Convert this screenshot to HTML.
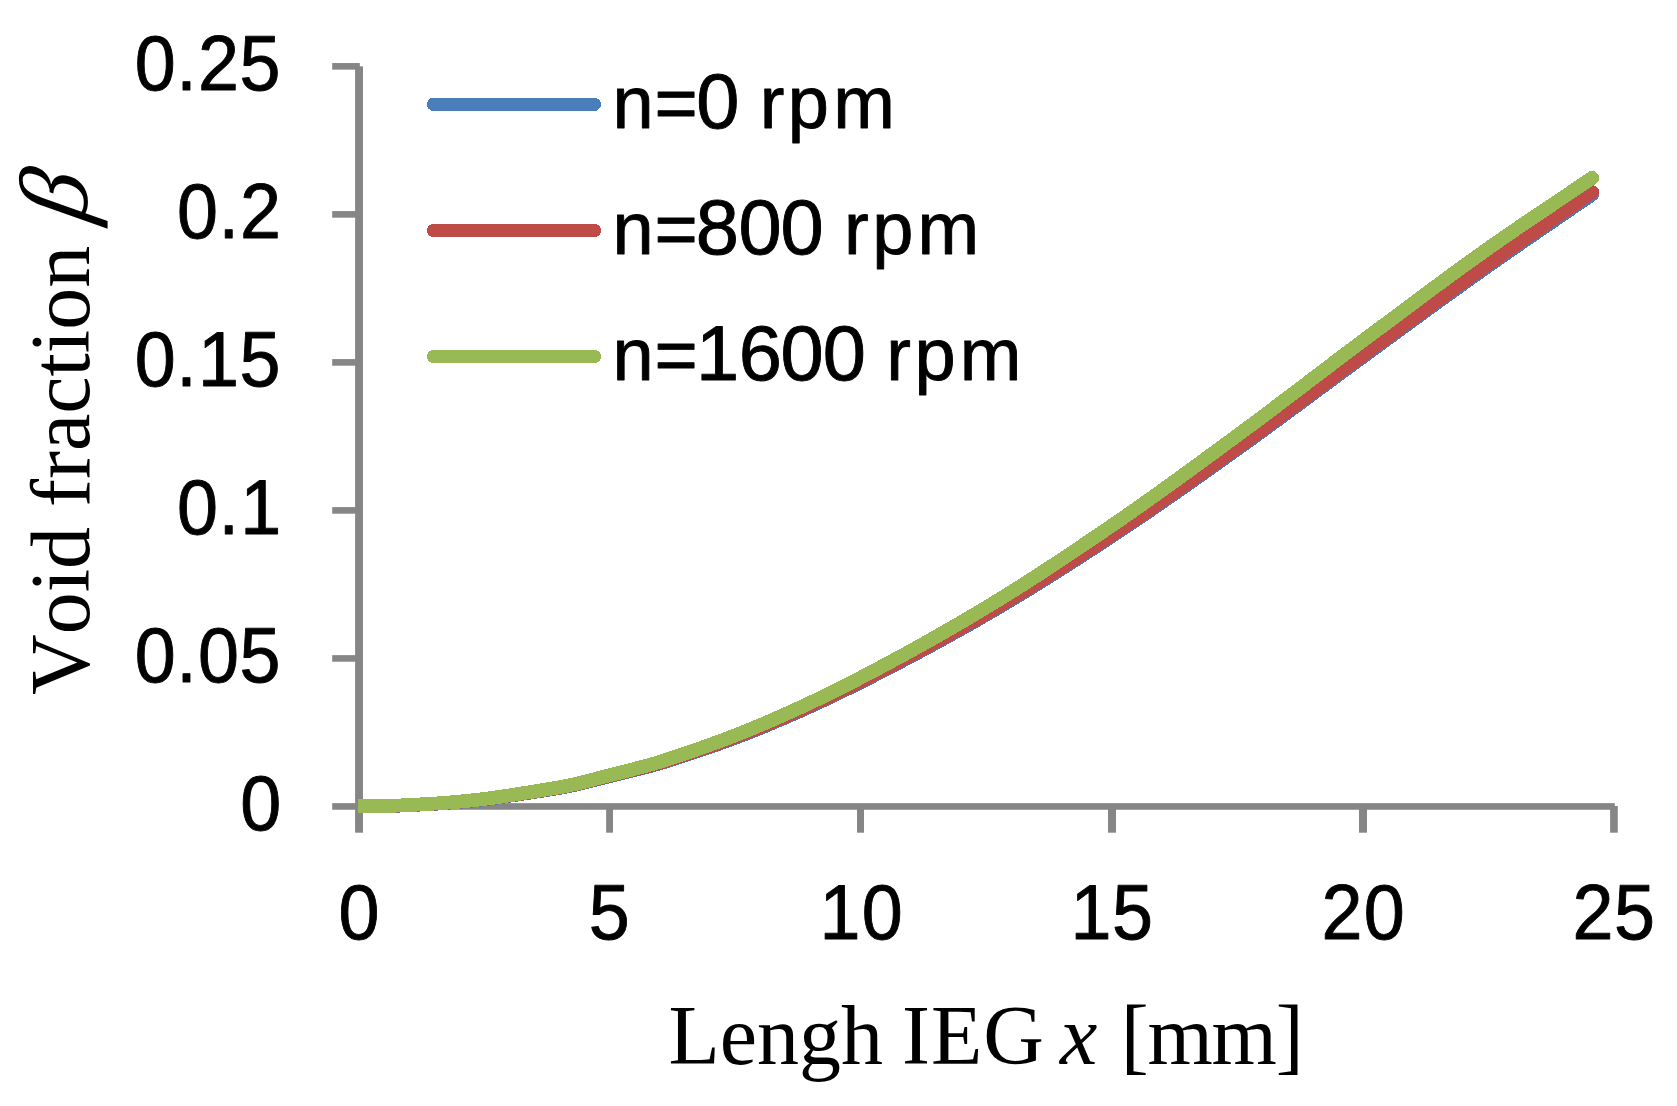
<!DOCTYPE html>
<html lang="en">
<head>
<meta charset="utf-8">
<title>Void fraction vs. length IEG</title>
<style>
html,body{margin:0;padding:0;background:#fff;overflow:hidden}
svg{display:block}
text{fill:#000;font-kerning:none;font-variant-ligatures:none}
</style>
</head>
<body>
<svg width="1677" height="1106" viewBox="0 0 1677 1106">
<rect width="1677" height="1106" fill="#fff"/>
<g fill="#868686">
<rect x="355.1" y="66.35" width="7.9" height="766.35"/>
<rect x="359" y="803.15" width="1255.8" height="6.6"/>
<rect x="332.2" y="803.15" width="27.6" height="6.6"/>
<rect x="332.2" y="655.13" width="27.6" height="6.6"/>
<rect x="332.2" y="507.11" width="27.6" height="6.6"/>
<rect x="332.2" y="359.09" width="27.6" height="6.6"/>
<rect x="332.2" y="211.07" width="27.6" height="6.6"/>
<rect x="332.2" y="63.05" width="27.6" height="6.6"/>
<rect x="606.15" y="806" width="6.85" height="26.7"/>
<rect x="857.0" y="806" width="7.00" height="26.7"/>
<rect x="1108.0" y="806" width="8.00" height="26.7"/>
<rect x="1359.0" y="806" width="8.00" height="26.7"/>
<rect x="1610.1" y="806" width="7.70" height="26.7"/>
</g>
<g shape-rendering="crispEdges">
<path d="M358.0 806.00 L364.0 806.00 L370.0 806.01 L376.0 806.01 L382.0 806.00 L388.0 805.93 L394.0 805.79 L400.0 805.59 L406.0 805.33 L412.0 805.04 L418.0 804.72 L424.0 804.39 L430.0 804.04 L436.0 803.70 L442.0 803.31 L448.0 802.87 L454.0 802.37 L460.0 801.83 L466.0 801.26 L472.0 800.65 L478.0 800.02 L484.0 799.35 L490.0 798.61 L496.0 797.81 L502.0 796.95 L508.0 796.06 L514.0 795.14 L520.0 794.21 L526.0 793.28 L532.0 792.35 L538.0 791.44 L544.0 790.52 L550.0 789.57 L556.0 788.57 L562.0 787.50 L568.0 786.33 L574.0 785.05 L580.0 783.66 L586.0 782.19 L592.0 780.68 L598.0 779.14 L604.0 777.61 L610.0 776.10 L616.0 774.63 L622.0 773.16 L628.0 771.70 L634.0 770.22 L640.0 768.71 L646.0 767.16 L652.0 765.56 L658.0 763.87 L664.0 762.08 L670.0 760.21 L676.0 758.29 L682.0 756.35 L688.0 754.38 L694.0 752.39 L700.0 750.37 L706.0 748.33 L712.0 746.24 L718.0 744.13 L724.0 741.97 L730.0 739.78 L736.0 737.54 L742.0 735.26 L748.0 732.93 L754.0 730.55 L760.0 728.13 L766.0 725.67 L772.0 723.18 L778.0 720.65 L784.0 718.08 L790.0 715.48 L796.0 712.86 L802.0 710.20 L808.0 707.50 L814.0 704.76 L820.0 701.98 L826.0 699.16 L832.0 696.31 L838.0 693.43 L844.0 690.51 L850.0 687.57 L856.0 684.60 L862.0 681.60 L868.0 678.58 L874.0 675.54 L880.0 672.48 L886.0 669.40 L892.0 666.30 L898.0 663.18 L904.0 660.03 L910.0 656.87 L916.0 653.68 L922.0 650.48 L928.0 647.25 L934.0 643.99 L940.0 640.72 L946.0 637.42 L952.0 634.10 L958.0 630.76 L964.0 627.39 L970.0 624.00 L976.0 620.59 L982.0 617.15 L988.0 613.68 L994.0 610.19 L1000.0 606.66 L1006.0 603.10 L1012.0 599.51 L1018.0 595.89 L1024.0 592.24 L1030.0 588.57 L1036.0 584.87 L1042.0 581.14 L1048.0 577.39 L1054.0 573.61 L1060.0 569.82 L1066.0 566.00 L1072.0 562.16 L1078.0 558.30 L1084.0 554.43 L1090.0 550.54 L1096.0 546.63 L1102.0 542.71 L1108.0 538.78 L1114.0 534.83 L1120.0 530.86 L1126.0 526.86 L1132.0 522.83 L1138.0 518.78 L1144.0 514.70 L1150.0 510.60 L1156.0 506.47 L1162.0 502.33 L1168.0 498.17 L1174.0 493.99 L1180.0 489.79 L1186.0 485.58 L1192.0 481.35 L1198.0 477.12 L1204.0 472.87 L1210.0 468.61 L1216.0 464.34 L1222.0 460.07 L1228.0 455.79 L1234.0 451.50 L1240.0 447.21 L1246.0 442.91 L1252.0 438.57 L1258.0 434.22 L1264.0 429.85 L1270.0 425.46 L1276.0 421.06 L1282.0 416.65 L1288.0 412.22 L1294.0 407.78 L1300.0 403.34 L1306.0 398.90 L1312.0 394.45 L1318.0 390.00 L1324.0 385.55 L1330.0 381.10 L1336.0 376.66 L1342.0 372.23 L1348.0 367.81 L1354.0 363.39 L1360.0 358.99 L1366.0 354.61 L1372.0 350.22 L1378.0 345.83 L1384.0 341.43 L1390.0 337.04 L1396.0 332.64 L1402.0 328.25 L1408.0 323.85 L1414.0 319.47 L1420.0 315.09 L1426.0 310.71 L1432.0 306.34 L1438.0 301.98 L1444.0 297.64 L1450.0 293.30 L1456.0 288.98 L1462.0 284.67 L1468.0 280.38 L1474.0 276.10 L1480.0 271.85 L1486.0 267.61 L1492.0 263.39 L1498.0 259.19 L1504.0 255.01 L1510.0 250.84 L1516.0 246.69 L1522.0 242.54 L1528.0 238.41 L1534.0 234.28 L1540.0 230.16 L1546.0 226.05 L1552.0 221.94 L1558.0 217.83 L1564.0 213.72 L1570.0 209.61 L1576.0 205.49 L1582.0 201.37 L1588.0 197.24 L1592.2 194.35" fill="none" stroke="#4A7EBB" stroke-width="13.8" stroke-linejoin="round"/>
<circle cx="1592.2" cy="194.35" r="6.9" fill="#4A7EBB"/>
<path d="M358.0 806.00 L364.0 806.00 L370.0 805.99 L376.0 805.98 L382.0 805.96 L388.0 805.88 L394.0 805.73 L400.0 805.51 L406.0 805.25 L412.0 804.95 L418.0 804.62 L424.0 804.27 L430.0 803.92 L436.0 803.56 L442.0 803.16 L448.0 802.71 L454.0 802.20 L460.0 801.66 L466.0 801.07 L472.0 800.45 L478.0 799.81 L484.0 799.13 L490.0 798.38 L496.0 797.57 L502.0 796.70 L508.0 795.80 L514.0 794.87 L520.0 793.93 L526.0 792.98 L532.0 792.05 L538.0 791.13 L544.0 790.20 L550.0 789.23 L556.0 788.22 L562.0 787.14 L568.0 785.96 L574.0 784.67 L580.0 783.27 L586.0 781.79 L592.0 780.27 L598.0 778.72 L604.0 777.17 L610.0 775.65 L616.0 774.16 L622.0 772.69 L628.0 771.21 L634.0 769.72 L640.0 768.20 L646.0 766.64 L652.0 765.02 L658.0 763.32 L664.0 761.51 L670.0 759.63 L676.0 757.70 L682.0 755.74 L688.0 753.76 L694.0 751.76 L700.0 749.72 L706.0 747.66 L712.0 745.56 L718.0 743.43 L724.0 741.26 L730.0 739.05 L736.0 736.80 L742.0 734.50 L748.0 732.16 L754.0 729.77 L760.0 727.34 L766.0 724.86 L772.0 722.35 L778.0 719.81 L784.0 717.23 L790.0 714.62 L796.0 711.98 L802.0 709.31 L808.0 706.60 L814.0 703.84 L820.0 701.05 L826.0 698.22 L832.0 695.36 L838.0 692.47 L844.0 689.54 L850.0 686.59 L856.0 683.60 L862.0 680.60 L868.0 677.57 L874.0 674.52 L880.0 671.45 L886.0 668.36 L892.0 665.25 L898.0 662.12 L904.0 658.97 L910.0 655.80 L916.0 652.61 L922.0 649.39 L928.0 646.15 L934.0 642.89 L940.0 639.61 L946.0 636.31 L952.0 632.98 L958.0 629.63 L964.0 626.26 L970.0 622.86 L976.0 619.44 L982.0 615.99 L988.0 612.52 L994.0 609.02 L1000.0 605.49 L1006.0 601.92 L1012.0 598.32 L1018.0 594.70 L1024.0 591.04 L1030.0 587.36 L1036.0 583.65 L1042.0 579.92 L1048.0 576.16 L1054.0 572.38 L1060.0 568.58 L1066.0 564.75 L1072.0 560.91 L1078.0 557.04 L1084.0 553.16 L1090.0 549.27 L1096.0 545.35 L1102.0 541.43 L1108.0 537.48 L1114.0 533.53 L1120.0 529.55 L1126.0 525.54 L1132.0 521.51 L1138.0 517.45 L1144.0 513.36 L1150.0 509.25 L1156.0 505.12 L1162.0 500.97 L1168.0 496.80 L1174.0 492.62 L1180.0 488.41 L1186.0 484.19 L1192.0 479.96 L1198.0 475.72 L1204.0 471.46 L1210.0 467.20 L1216.0 462.92 L1222.0 458.64 L1228.0 454.35 L1234.0 450.06 L1240.0 445.77 L1246.0 441.45 L1252.0 437.11 L1258.0 432.75 L1264.0 428.38 L1270.0 423.98 L1276.0 419.57 L1282.0 415.15 L1288.0 410.72 L1294.0 406.27 L1300.0 401.82 L1306.0 397.37 L1312.0 392.91 L1318.0 388.46 L1324.0 384.00 L1330.0 379.55 L1336.0 375.10 L1342.0 370.66 L1348.0 366.23 L1354.0 361.81 L1360.0 357.40 L1366.0 353.00 L1372.0 348.61 L1378.0 344.21 L1384.0 339.80 L1390.0 335.40 L1396.0 331.00 L1402.0 326.59 L1408.0 322.20 L1414.0 317.80 L1420.0 313.41 L1426.0 309.03 L1432.0 304.65 L1438.0 300.28 L1444.0 295.93 L1450.0 291.58 L1456.0 287.25 L1462.0 282.93 L1468.0 278.62 L1474.0 274.33 L1480.0 270.06 L1486.0 265.81 L1492.0 261.58 L1498.0 257.36 L1504.0 253.16 L1510.0 248.97 L1516.0 244.79 L1522.0 240.62 L1528.0 236.45 L1534.0 232.30 L1540.0 228.14 L1546.0 224.00 L1552.0 219.85 L1558.0 215.71 L1564.0 211.57 L1570.0 207.42 L1576.0 203.27 L1582.0 199.12 L1588.0 194.96 L1592.2 192.05" fill="none" stroke="#BE4B48" stroke-width="13.8" stroke-linejoin="round"/>
<circle cx="1592.2" cy="192.05" r="6.9" fill="#BE4B48"/>
<path d="M358.0 806.00 L364.0 805.99 L370.0 805.98 L376.0 805.96 L382.0 805.94 L388.0 805.85 L394.0 805.69 L400.0 805.47 L406.0 805.20 L412.0 804.89 L418.0 804.55 L424.0 804.20 L430.0 803.84 L436.0 803.48 L442.0 803.07 L448.0 802.61 L454.0 802.10 L460.0 801.54 L466.0 800.94 L472.0 800.32 L478.0 799.67 L484.0 798.98 L490.0 798.21 L496.0 797.39 L502.0 796.51 L508.0 795.59 L514.0 794.65 L520.0 793.69 L526.0 792.73 L532.0 791.79 L538.0 790.85 L544.0 789.90 L550.0 788.92 L556.0 787.89 L562.0 786.78 L568.0 785.59 L574.0 784.27 L580.0 782.84 L586.0 781.35 L592.0 779.80 L598.0 778.22 L604.0 776.65 L610.0 775.10 L616.0 773.58 L622.0 772.07 L628.0 770.56 L634.0 769.02 L640.0 767.45 L646.0 765.84 L652.0 764.16 L658.0 762.41 L664.0 760.55 L670.0 758.60 L676.0 756.60 L682.0 754.58 L688.0 752.53 L694.0 750.46 L700.0 748.35 L706.0 746.22 L712.0 744.05 L718.0 741.84 L724.0 739.60 L730.0 737.32 L736.0 735.00 L742.0 732.63 L748.0 730.21 L754.0 727.75 L760.0 725.24 L766.0 722.69 L772.0 720.10 L778.0 717.48 L784.0 714.82 L790.0 712.12 L796.0 709.40 L802.0 706.64 L808.0 703.84 L814.0 701.00 L820.0 698.11 L826.0 695.19 L832.0 692.24 L838.0 689.25 L844.0 686.22 L850.0 683.17 L856.0 680.09 L862.0 676.98 L868.0 673.85 L874.0 670.69 L880.0 667.51 L886.0 664.31 L892.0 661.09 L898.0 657.84 L904.0 654.57 L910.0 651.28 L916.0 647.97 L922.0 644.63 L928.0 641.26 L934.0 637.87 L940.0 634.46 L946.0 631.03 L952.0 627.57 L958.0 624.08 L964.0 620.58 L970.0 617.04 L976.0 613.49 L982.0 609.90 L988.0 606.30 L994.0 602.66 L1000.0 598.98 L1006.0 595.27 L1012.0 591.52 L1018.0 587.74 L1024.0 583.94 L1030.0 580.10 L1036.0 576.23 L1042.0 572.34 L1048.0 568.42 L1054.0 564.48 L1060.0 560.52 L1066.0 556.53 L1072.0 552.53 L1078.0 548.51 L1084.0 544.47 L1090.0 540.42 L1096.0 536.35 L1102.0 532.27 L1108.0 528.18 L1114.0 524.08 L1120.0 519.96 L1126.0 515.80 L1132.0 511.62 L1138.0 507.41 L1144.0 503.18 L1150.0 498.93 L1156.0 494.66 L1162.0 490.36 L1168.0 486.05 L1174.0 481.72 L1180.0 477.38 L1186.0 473.02 L1192.0 468.65 L1198.0 464.27 L1204.0 459.88 L1210.0 455.48 L1216.0 451.08 L1222.0 446.67 L1228.0 442.26 L1234.0 437.84 L1240.0 433.43 L1246.0 428.99 L1252.0 424.54 L1258.0 420.06 L1264.0 415.56 L1270.0 411.05 L1276.0 406.52 L1282.0 401.99 L1288.0 397.44 L1294.0 392.89 L1300.0 388.33 L1306.0 383.76 L1312.0 379.20 L1318.0 374.64 L1324.0 370.08 L1330.0 365.53 L1336.0 360.99 L1342.0 356.45 L1348.0 351.93 L1354.0 347.43 L1360.0 342.94 L1366.0 338.46 L1372.0 333.99 L1378.0 329.50 L1384.0 325.02 L1390.0 320.53 L1396.0 316.04 L1402.0 311.55 L1408.0 307.07 L1414.0 302.59 L1420.0 298.12 L1426.0 293.67 L1432.0 289.22 L1438.0 284.78 L1444.0 280.36 L1450.0 275.96 L1456.0 271.58 L1462.0 267.22 L1468.0 262.88 L1474.0 258.56 L1480.0 254.27 L1486.0 250.01 L1492.0 245.78 L1498.0 241.59 L1504.0 237.43 L1510.0 233.29 L1516.0 229.19 L1522.0 225.10 L1528.0 221.03 L1534.0 216.98 L1540.0 212.94 L1546.0 208.91 L1552.0 204.89 L1558.0 200.87 L1564.0 196.85 L1570.0 192.82 L1576.0 188.79 L1582.0 184.75 L1588.0 180.70 L1592.2 177.85" fill="none" stroke="#98B954" stroke-width="13.8" stroke-linejoin="round"/>
<circle cx="1592.2" cy="177.85" r="6.9" fill="#98B954"/>
</g>
<g shape-rendering="crispEdges">
<line x1="433.54999999999995" y1="104.3" x2="594.35" y2="104.3" stroke="#4A7EBB" stroke-width="13.3" stroke-linecap="round"/>
<line x1="433.54999999999995" y1="230.5" x2="594.35" y2="230.5" stroke="#BE4B48" stroke-width="13.3" stroke-linecap="round"/>
<line x1="433.54999999999995" y1="356.5" x2="594.35" y2="356.5" stroke="#98B954" stroke-width="13.3" stroke-linecap="round"/>
</g>
<text transform="scale(0.95,1)" x="252.84" y="829.85" font-family='"Liberation Sans", sans-serif' stroke="#000" stroke-width="0.9" stroke-linejoin="round" font-size="77.6">0</text>
<text transform="scale(0.95,1)" x="141.89 185.54 208.42 252.08" y="681.83" font-family='"Liberation Sans", sans-serif' stroke="#000" stroke-width="0.9" stroke-linejoin="round" font-size="77.6">0.05</text>
<text transform="scale(0.95,1)" x="186.32 229.96 252.78" y="533.81" font-family='"Liberation Sans", sans-serif' stroke="#000" stroke-width="0.9" stroke-linejoin="round" font-size="77.6">0.1</text>
<text transform="scale(0.95,1)" x="141.89 185.54 208.36 252.08" y="385.79" font-family='"Liberation Sans", sans-serif' stroke="#000" stroke-width="0.9" stroke-linejoin="round" font-size="77.6">0.15</text>
<text transform="scale(0.95,1)" x="186.32 229.96 252.74" y="237.77" font-family='"Liberation Sans", sans-serif' stroke="#000" stroke-width="0.9" stroke-linejoin="round" font-size="77.6">0.2</text>
<text transform="scale(0.95,1)" x="141.89 185.54 208.32 252.08" y="89.75" font-family='"Liberation Sans", sans-serif' stroke="#000" stroke-width="0.9" stroke-linejoin="round" font-size="77.6">0.25</text>
<text transform="scale(0.95,1)" x="356.42" y="938.75" font-family='"Liberation Sans", sans-serif' stroke="#000" stroke-width="0.9" stroke-linejoin="round" font-size="77.6">0</text>
<text transform="scale(0.95,1)" x="619.87" y="938.75" font-family='"Liberation Sans", sans-serif' stroke="#000" stroke-width="0.9" stroke-linejoin="round" font-size="77.6">5</text>
<text transform="scale(0.95,1)" x="862.57 907.05" y="938.75" font-family='"Liberation Sans", sans-serif' stroke="#000" stroke-width="0.9" stroke-linejoin="round" font-size="77.6">10</text>
<text transform="scale(0.95,1)" x="1126.78 1170.50" y="938.75" font-family='"Liberation Sans", sans-serif' stroke="#000" stroke-width="0.9" stroke-linejoin="round" font-size="77.6">15</text>
<text transform="scale(0.95,1)" x="1390.95 1435.47" y="938.75" font-family='"Liberation Sans", sans-serif' stroke="#000" stroke-width="0.9" stroke-linejoin="round" font-size="77.6">20</text>
<text transform="scale(0.95,1)" x="1655.16 1698.92" y="938.75" font-family='"Liberation Sans", sans-serif' stroke="#000" stroke-width="0.9" stroke-linejoin="round" font-size="77.6">25</text>
<text y="128.00" font-family='"Liberation Sans", sans-serif' stroke="#000" stroke-width="0.9" stroke-linejoin="round" font-size="74"><tspan x="612.42 654.46">n=</tspan><tspan x="696.22" font-size="77.6">0</tspan> <tspan x="759.69 787.84 833.16">rpm</tspan></text>
<text y="254.10" font-family='"Liberation Sans", sans-serif' stroke="#000" stroke-width="0.9" stroke-linejoin="round" font-size="74"><tspan x="612.42 654.46">n=</tspan><tspan x="695.82 738.42 780.62" font-size="77.6">800</tspan> <tspan x="844.09 872.24 917.56">rpm</tspan></text>
<text y="380.20" font-family='"Liberation Sans", sans-serif' stroke="#000" stroke-width="0.9" stroke-linejoin="round" font-size="74"><tspan x="612.42 654.46">n=</tspan><tspan x="696.11 738.66 780.62 822.82" font-size="77.6">1600</tspan> <tspan x="886.29 914.44 959.76">rpm</tspan></text>
<text y="1064.2" font-family='"Liberation Serif", serif' font-size="84"><tspan x="668.4" letter-spacing="0">Lengh</tspan> <tspan x="902" letter-spacing="1">IEG</tspan> <tspan x="1060" font-style="italic">x</tspan> <tspan x="1120.7" letter-spacing="-1.2">[mm]</tspan></text>
<g transform="translate(88.6,0) rotate(-90)"><text y="0" font-family='"Liberation Serif", serif' font-size="84"><tspan x="-695" letter-spacing="0">Void</tspan> <tspan x="-507" letter-spacing="0">fraction</tspan></text> <text transform="translate(-223.5,-1.2) matrix(1.14,0,-0.2051,1.152,0,0)" x="0" y="0" font-family='"Liberation Serif", serif' font-style="italic" font-size="84">β</text></g>
</svg>
</body>
</html>
